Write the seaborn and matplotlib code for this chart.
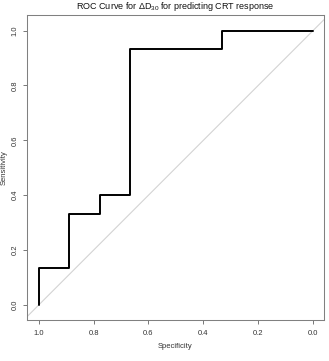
import numpy as np
import pandas as pd
import matplotlib
matplotlib.use("Agg")
import matplotlib.pyplot as plt
import seaborn as sns

# ROC curve coordinates (step vertices)
specificity = [1.0, 1.0, 0.889, 0.889, 0.778, 0.778, 0.667, 0.667, 0.333, 0.333, 0.0]
sensitivity = [0.0, 0.133, 0.133, 0.333, 0.333, 0.4, 0.4, 0.933, 0.933, 1.0, 1.0]
tick_vals = [1.0, 0.8, 0.6, 0.4, 0.2, 0.0]
tick_labels = ["1.0", "0.8", "0.6", "0.4", "0.2", "0.0"]

df = pd.DataFrame({"Specificity": specificity, "Sensitivity": sensitivity})

sns.set_style("white")
plt.rcParams["font.family"] = ["Liberation Sans", "DejaVu Sans"]
plt.rcParams["mathtext.fontset"] = "custom"
plt.rcParams["mathtext.rm"] = "Liberation Sans"

fig = plt.figure(figsize=(3.29, 3.61), dpi=100)
ax = fig.add_axes([0.0821, 0.1136, 0.9027, 0.8449])

ax.axline((1, 0), (0, 1), color="#d3d3d3", lw=0.8, zorder=1)
sns.lineplot(data=df, x="Specificity", y="Sensitivity", sort=False, estimator=None,
             color="black", lw=1.4, ax=ax, zorder=2)

ax.set_xlim(1.043, -0.040)
ax.set_ylim(-0.055, 1.057)
ax.set_xticks(tick_vals)
ax.set_xticklabels(tick_labels)
ax.set_yticks(tick_vals)
ax.set_yticklabels(tick_labels, rotation=90, va="center")
ax.tick_params(direction="out", length=3, width=0.7, colors="#777777",
               labelsize=5.5, labelcolor="#333333")
ax.tick_params(axis="x", pad=4.5)
ax.tick_params(axis="y", pad=3.2)
ax.tick_params(axis="both", which="both", bottom=True, left=True)

for s in ax.spines.values():
    s.set_color("#808080")
    s.set_linewidth(0.75)

ax.set_xlabel("Specificity", fontsize=5.5, color="#333333", va="center")
ax.set_ylabel("Sensitivity", fontsize=5.5, color="#333333", va="center")
ax.xaxis.set_label_coords(0.5, -0.088)
ax.yaxis.set_label_coords(-0.076, 0.5)
ax.set_title(r"ROC Curve for Δ$\mathregular{D_{30}}$ for predicting CRT response",
             fontsize=6.5, color="#111111", pad=4)

fig.savefig("out.png", dpi=100)
